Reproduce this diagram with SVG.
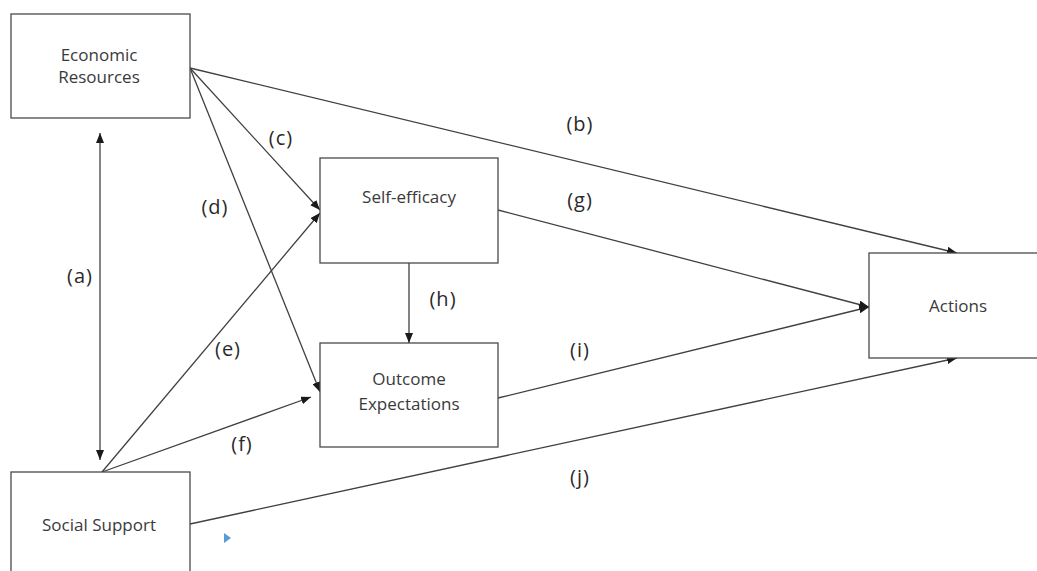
<svg xmlns="http://www.w3.org/2000/svg" width="1037" height="571" viewBox="0 0 1037 571">
<style>
.box{fill:#fff;stroke:#4a4a4a;stroke-width:1.3}
.t{font-family:"Open Sans","Liberation Sans",sans-serif;font-size:17px;fill:#3a3a3a;text-anchor:middle}
.lbl{font-family:"Open Sans","Liberation Sans",sans-serif;font-size:20px;fill:#2a2a2a;text-anchor:middle;letter-spacing:1px}
.c{stroke:#404040;stroke-width:1.3;fill:none;marker-end:url(#ah)}
</style>
<defs>
<marker id="ah" markerUnits="userSpaceOnUse" markerWidth="10" markerHeight="8" refX="10" refY="4" orient="auto-start-reverse">
<path d="M0,0 L10,4 L0,8 z" fill="#1a1a1a"/>
</marker>
</defs>
<rect width="1037" height="571" fill="#fff"/>
<g id="connectors">
<line class="c" x1="100" y1="460" x2="100" y2="133" style="marker-start:url(#ah)"/>
<line class="c" x1="190" y1="68" x2="957" y2="253"/>
<line class="c" x1="190" y1="68" x2="320" y2="210"/>
<line class="c" x1="190" y1="68" x2="320" y2="392"/>
<line class="c" x1="102" y1="472" x2="320" y2="213"/>
<line class="c" x1="102" y1="472" x2="311" y2="397"/>
<line class="c" x1="409" y1="263" x2="409" y2="343"/>
<line class="c" x1="498" y1="210" x2="869" y2="307"/>
<line class="c" x1="498" y1="398" x2="869" y2="307"/>
<line class="c" x1="190" y1="524" x2="957" y2="358"/>
<path d="M224,533 L231,538 L224,543 z" fill="#5b9bd5"/>
</g>
<g id="labels">
<text class="lbl" x="80" y="283">(a)</text>
<text class="lbl" x="580" y="131">(b)</text>
<text class="lbl" x="281" y="145">(c)</text>
<text class="lbl" x="215" y="214">(d)</text>
<text class="lbl" x="228" y="356">(e)</text>
<text class="lbl" x="242" y="451">(f)</text>
<text class="lbl" x="580" y="207">(g)</text>
<text class="lbl" x="443" y="306">(h)</text>
<text class="lbl" x="580" y="357">(i)</text>
<text class="lbl" x="580" y="484">(j)</text>
</g>
<g id="economic-resources">
<rect class="box" x="11" y="14" width="179" height="104"/>
<text class="t" x="99" y="61">Economic</text>
<text class="t" x="99" y="83">Resources</text>
</g>
<g id="self-efficacy">
<rect class="box" x="320" y="158" width="178" height="105"/>
<text class="t" x="409" y="203">Self-efficacy</text>
</g>
<g id="outcome-expectations">
<rect class="box" x="320" y="343" width="178" height="104"/>
<text class="t" x="409" y="385">Outcome</text>
<text class="t" x="409" y="410">Expectations</text>
</g>
<g id="actions">
<rect class="box" x="869" y="253" width="180" height="105"/>
<text class="t" x="958" y="312">Actions</text>
</g>
<g id="social-support">
<rect class="box" x="11" y="472" width="179" height="104"/>
<text class="t" x="99" y="531">Social Support</text>
</g>
</svg>
